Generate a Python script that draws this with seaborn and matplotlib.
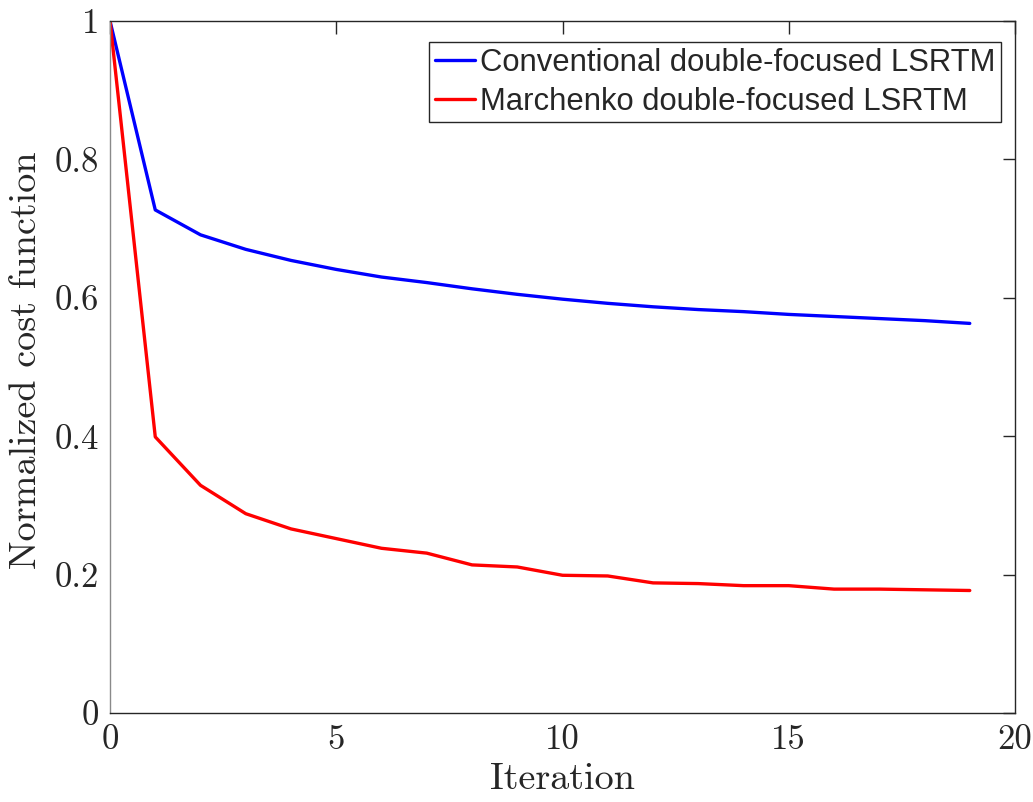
import numpy as np
import pandas as pd
import matplotlib
matplotlib.use("Agg")
import matplotlib.pyplot as plt
import seaborn as sns

# Convergence history of the two inversion schemes
iterations = list(range(20))
conventional = [1.000, 0.727, 0.691, 0.670, 0.654, 0.641, 0.630, 0.622, 0.613, 0.605,
                0.598, 0.592, 0.587, 0.583, 0.580, 0.576, 0.573, 0.570, 0.567, 0.563]
marchenko = [1.000, 0.399, 0.329, 0.288, 0.266, 0.252, 0.238, 0.231, 0.214, 0.211,
             0.199, 0.198, 0.188, 0.187, 0.184, 0.184, 0.179, 0.179, 0.178, 0.177]
series_names = ["Conventional double-focused LSRTM", "Marchenko double-focused LSRTM"]
x_ticks = [0, 5, 10, 15, 20]
y_ticks = [0, 0.2, 0.4, 0.6, 0.8, 1]
y_tick_labels = ["0", "0.2", "0.4", "0.6", "0.8", "1"]

df = pd.DataFrame({
    "Iteration": iterations * 2,
    "cost": conventional + marchenko,
    "method": [series_names[0]] * len(iterations) + [series_names[1]] * len(iterations),
})

sns.set_theme(style="white")
plt.rcParams["axes.formatter.use_mathtext"] = True

serif = "cmr10"
sans = ["Liberation Sans", "DejaVu Sans"]

fig = plt.figure(figsize=(10.33, 8.02), dpi=100)
ax = fig.add_axes([0.1065, 0.1110, 0.8761, 0.8628])

sns.lineplot(data=df, x="Iteration", y="cost", hue="method",
             palette={series_names[0]: "#0000ff", series_names[1]: "#ff0000"},
             linewidth=2.4, ax=ax, legend=True)

ax.set_xlim(0, 20)
ax.set_ylim(0, 1)
ax.set_xticks(x_ticks)
ax.set_xticklabels([str(t) for t in x_ticks], fontfamily=serif, fontsize=25)
ax.set_yticks(y_ticks)
ax.set_yticklabels(y_tick_labels, fontfamily=serif, fontsize=25)
ax.set_xlabel("Iteration", fontfamily=serif, fontsize=27.5, labelpad=5)
ax.set_ylabel("Normalized cost function", fontfamily=serif, fontsize=27.5, labelpad=9)
ax.yaxis.set_label_coords(-0.0735, 0.51)

ax.tick_params(axis="both", direction="in", length=9, width=1.0, colors="#262626",
               top=True, right=True, pad=8)
for side, sp in ax.spines.items():
    sp.set_visible(True)
    sp.set_linewidth(1.0)
    sp.set_color("#262626")
ax.spines["left"].set_color("#8a8a8a")

handles, labels = ax.get_legend_handles_labels()
leg = ax.legend(handles, labels, loc="upper right", bbox_to_anchor=(0.9845, 0.969),
                prop={"family": sans, "size": 22.3}, frameon=True, fancybox=False,
                edgecolor="#262626", framealpha=1, borderpad=0.17, labelspacing=0.3,
                handlelength=1.3, handletextpad=0.18, borderaxespad=0.0)
leg.get_frame().set_linewidth(1.0)

fig.savefig("out.png", dpi=100)
